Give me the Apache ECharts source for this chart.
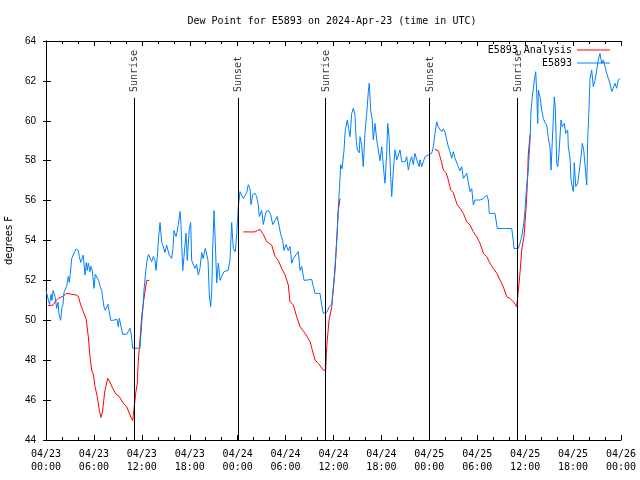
<!DOCTYPE html>
<html>
<head>
<meta charset="utf-8">
<script src="https://cdn.jsdelivr.net/npm/echarts@6/dist/echarts.min.js"></script>
<style>html,body{margin:0;padding:0;background:#fff;}#chart{width:640px;height:480px;}</style>
</head>
<body>
<div id="chart"></div>
<script>
// Hours since 2024-04-23 00:00 UTC
const xTickHours = [0, 6, 12, 18, 24, 30, 36, 42, 48, 54, 60, 66, 72];
const yTicks = [44, 46, 48, 50, 52, 54, 56, 58, 60, 62, 64];

const obsHours = [0.00,0.16,0.31,0.44,0.63,0.75,0.88,1.13,1.34,1.50,1.63,1.84,1.97,2.13,2.25,2.42,2.59,2.79,2.92,3.04,3.22,3.38,3.54,3.76,4.04,4.17,4.35,4.51,4.67,4.88,5.05,5.17,5.30,5.51,5.63,5.80,6.01,6.17,6.35,6.60,6.76,6.97,7.14,7.26,7.43,7.60,7.76,7.93,8.10,8.39,8.64,8.89,9.05,9.18,9.33,9.60,10.11,10.27,10.52,10.68,10.86,11.77,11.98,12.15,12.27,12.52,12.69,12.84,13.02,13.24,13.44,13.65,13.77,13.94,14.11,14.28,14.49,14.69,14.90,15.11,15.28,15.44,15.74,15.90,16.03,16.28,16.40,16.57,16.78,16.90,17.12,17.28,17.53,17.69,17.94,18.12,18.24,18.41,18.66,18.87,19.07,19.28,19.50,19.66,19.78,19.95,20.12,20.29,20.45,20.62,20.75,20.87,21.04,21.20,21.38,21.58,21.79,22.00,22.29,22.79,23.04,23.25,23.45,23.70,23.88,24.08,24.29,24.54,24.71,24.92,25.13,25.33,25.55,25.67,25.88,26.17,26.38,26.58,26.71,27.01,27.21,27.55,27.84,28.14,28.39,28.68,28.96,29.21,29.39,29.64,29.80,30.05,30.34,30.55,30.77,30.97,31.18,31.59,31.81,32.02,32.31,32.56,33.27,33.68,34.31,34.52,34.72,35.15,35.48,35.78,36.06,36.31,36.48,36.56,36.73,36.90,37.07,37.32,37.48,37.73,37.90,38.07,38.28,38.48,38.69,38.82,38.98,39.23,39.32,39.53,39.73,39.95,40.16,40.36,40.48,40.66,40.86,40.98,41.20,41.41,41.61,41.82,42.04,42.32,42.45,42.66,42.79,42.95,43.16,43.29,43.49,43.70,43.92,44.12,44.33,44.54,44.95,45.17,45.37,45.58,45.79,45.99,46.21,46.42,46.75,46.83,47.05,47.25,47.46,47.87,48.30,48.50,48.71,48.92,49.12,49.34,49.55,49.75,49.96,50.18,50.38,50.59,50.80,51.00,51.22,51.43,51.63,51.84,52.05,52.26,52.47,52.68,52.88,53.09,53.31,53.51,53.72,54.35,54.76,55.19,55.39,55.51,56.22,56.51,58.32,58.52,58.60,59.14,59.35,59.57,59.77,59.98,60.19,60.39,60.61,60.73,60.90,61.15,61.32,61.45,61.57,61.65,61.86,62.07,62.27,62.49,62.70,62.90,63.11,63.24,63.40,63.65,63.78,63.95,64.08,64.24,64.49,64.65,64.90,65.08,65.33,65.40,65.62,65.74,65.90,66.03,66.15,66.33,66.45,66.58,66.74,66.99,67.16,67.33,67.49,67.71,67.83,68.00,68.12,68.33,68.53,68.75,68.96,69.16,69.37,69.58,69.79,70.00,70.21,70.41,70.62,70.84,71.04,71.25,71.46,71.66,71.88];
const obsValues = [51.5,51.5,51.0,50.8,51.3,51.0,51.5,51.2,50.6,50.9,50.3,50.0,50.6,50.8,51.4,51.4,51.7,52.2,51.9,52.3,53.1,53.0,53.4,53.57,53.5,53.2,52.9,52.9,53.27,52.27,52.9,52.5,52.87,52.44,52.7,52.5,51.6,52.3,52.2,52.0,51.7,51.5,51.0,50.68,50.5,50.5,50.8,50.7,50.0,50.0,50.05,50.05,49.68,50.1,50.0,49.3,49.3,49.4,49.6,49.3,48.6,48.6,49.85,50.7,51.5,52.6,53.1,53.3,53.2,52.94,53.2,53.0,52.5,53.2,54.2,54.9,53.9,53.7,53.4,53.77,53.5,53.27,53.1,53.6,54.5,54.2,54.4,54.8,55.45,54.8,52.5,53.2,54.37,53.0,54.6,54.9,53.0,52.9,52.6,52.8,52.27,52.6,53.4,53.1,53.2,53.6,53.5,53.0,51.27,50.68,51.5,53.5,55.5,53.9,51.87,52.87,52.0,52.2,52.44,52.5,53.0,54.9,53.6,53.44,54.3,55.7,56.45,56.4,56.1,56.03,56.4,56.8,56.6,55.8,56.3,56.37,56.2,55.8,55.2,55.5,54.8,55.45,55.5,55.3,54.8,55.0,55.2,54.7,54.3,54.0,53.5,53.8,53.5,53.7,52.86,53.1,53.2,53.44,52.5,52.7,52.0,52.0,52.05,51.35,51.35,50.77,50.35,50.4,50.68,50.8,52.0,53.37,54.5,55.3,56.5,57.8,57.6,58.54,59.54,60.04,59.6,59.2,60.37,60.62,60.3,59.2,58.54,58.4,59.2,58.8,57.7,59.45,60.37,61.46,61.88,60.54,60.0,59.04,59.87,59.04,58.54,58.0,58.7,57.37,56.87,58.4,59.87,59.2,57.2,56.2,57.5,58.54,58.04,58.1,58.54,57.95,57.95,58.2,57.53,57.95,58.2,57.8,58.37,58.04,57.7,58.04,57.7,57.95,58.2,58.29,58.37,58.7,59.37,59.95,59.7,59.6,59.45,59.6,59.45,59.04,58.7,58.45,58.12,58.45,58.12,58.04,57.7,57.5,57.7,57.11,57.11,57.37,57.37,56.45,56.6,55.78,56.03,56.03,56.1,56.28,56.03,55.36,55.36,54.6,54.6,53.94,53.6,53.6,53.86,54.2,54.69,55.53,56.7,57.53,59.04,60.45,61.2,62.04,62.46,61.4,59.87,61.54,61.2,60.54,60.12,59.9,59.79,59.12,58.7,57.53,59.0,61.2,60.6,57.87,57.7,58.4,60.04,59.7,59.87,59.37,59.54,58.7,58.12,57.03,56.7,56.45,57.9,56.7,56.6,56.87,57.37,58.2,58.87,58.54,58.54,56.78,59.0,60.7,62.13,62.55,61.7,62.04,62.55,63.05,63.38,62.88,63.05,62.71,62.38,62.13,61.88,61.46,61.54,61.88,61.63,62.04,62.13];

// Analysis series; null marks a gap
const anaHours = [0.25,0.50,0.84,1.13,1.54,2.09,2.59,3.22,3.76,4.04,4.35,4.67,5.01,5.30,5.51,5.72,5.92,6.14,6.42,6.67,6.89,7.07,7.23,7.39,7.73,8.01,8.35,8.77,9.18,9.68,10.11,10.52,10.86,11.06,11.23,11.43,11.56,11.77,11.98,12.27,12.61,12.94,18.00,24.71,26.17,26.48,26.80,27.21,27.64,28.26,28.68,29.09,29.51,29.93,30.34,30.55,30.97,31.39,31.81,32.43,33.06,33.68,34.10,34.72,35.02,35.15,35.44,35.78,36.19,36.40,36.60,36.82,42.00,48.71,49.12,49.34,49.55,49.75,50.09,50.38,50.68,51.00,51.22,51.50,51.84,52.26,52.68,53.09,53.51,53.93,54.35,54.76,55.19,55.60,56.01,56.44,56.85,57.26,57.69,58.10,58.52,58.94,59.07,59.35,59.57,59.85,60.10,60.27,60.39,60.61];
const anaValues = [50.75,50.7,50.75,50.93,51.1,51.2,51.35,51.3,51.27,51.2,50.77,50.43,50.1,49.18,48.17,47.5,47.3,46.67,46.17,45.5,45.13,45.4,46.0,46.5,47.09,46.9,46.59,46.3,46.17,45.84,45.67,45.25,44.97,45.0,46.34,46.84,48.0,49.0,50.18,51.1,52.0,52.0,null,54.43,54.43,54.5,54.56,54.3,53.94,53.77,53.2,53.0,52.6,52.27,51.77,50.93,50.77,50.18,49.68,49.35,48.93,48.01,47.84,47.5,47.5,48.68,50.0,50.68,52.5,54.0,55.5,56.1,null,58.57,58.5,58.2,57.9,57.53,57.4,57.03,56.53,56.4,56.11,55.78,55.61,55.36,54.94,54.78,54.44,54.19,53.86,53.36,53.19,52.86,52.6,52.36,52.02,51.68,51.18,51.1,50.93,50.68,51.18,52.36,53.52,54.19,55.53,56.86,58.3,59.3];

const sunHours = [11.05, 24.07, 35.02, 48.03, 59.05];
const sunNames = ['Sunrise', 'Sunset', 'Sunrise', 'Sunset', 'Sunrise'];
const sunLineTop = 61.15;
const sunLabelBase = 61.44;

const titleText = 'Dew Point for E5893 on 2024-Apr-23 (time in UTC)';
const obsName = 'E5893';
const anaName = 'E5893 Analysis';
const yName = 'degrees F';

const MONO = '"DejaVu Sans Mono", "Liberation Mono", monospace';
const SANS = '"Liberation Sans", Arial, sans-serif';

const chart = echarts.init(document.getElementById('chart'), null, {renderer: 'canvas'});

function pad(n) { return (n < 10 ? '0' : '') + n; }
function xLabel(v) {
  const day = 23 + Math.floor(v / 24);
  const hh = Math.round(v % 24);
  return '04/' + pad(day) + '\n' + pad(hh) + ':00';
}

const obsData = obsHours.map((h, i) => [h, obsValues[i]]);
const anaData = anaHours.map((h, i) => [h, anaValues[i] === null ? '-' : anaValues[i]]);
const sunData = sunHours.map((h, i) => ({name: sunNames[i], value: [h, sunLabelBase]}));

const baseX = {
  type: 'value', min: xTickHours[0], max: xTickHours[xTickHours.length - 1], interval: 6,
  axisLine: {show: true, lineStyle: {color: '#000', width: 1}},
  axisTick: {show: true, inside: true, length: 5, lineStyle: {color: '#000'}},
  minorTick: {show: true, splitNumber: 3, length: 3, lineStyle: {color: '#000'}},
  splitLine: {show: false}
};
const baseY = {
  type: 'value', min: yTicks[0], max: yTicks[yTicks.length - 1], interval: 2,
  axisLine: {show: true, lineStyle: {color: '#000', width: 1}},
  axisTick: {show: true, inside: true, length: 5, lineStyle: {color: '#000'}},
  splitLine: {show: false}
};

chart.setOption({
  animation: false,
  backgroundColor: '#fff',
  title: {
    text: titleText, left: 327, top: 11, textAlign: 'center',
    textStyle: {fontFamily: MONO, fontSize: 10, fontWeight: 'normal', color: '#000'}
  },
  legend: {
    data: [
      {name: anaName, icon: 'rect', itemStyle: {color: '#ff0000'}},
      {name: obsName, icon: 'rect', itemStyle: {color: '#0080ff'}}
    ],
    orient: 'vertical', align: 'right',
    right: 25, top: 39, itemWidth: 33, itemHeight: 1, itemGap: 1,
    textStyle: {fontFamily: MONO, fontSize: 10, color: '#000', lineHeight: 12}
  },
  grid: {left: 46, right: 19, top: 41, bottom: 40, containLabel: false, outerBoundsMode: 'none'},
  xAxis: [
    Object.assign({}, baseX, {
      position: 'bottom',
      axisLabel: {show: true, formatter: xLabel, fontFamily: MONO, fontSize: 10, color: '#000', lineHeight: 13, margin: 8, showMinLabel: true, showMaxLabel: true}
    }),
    Object.assign({}, baseX, {position: 'top', axisLabel: {show: false}})
  ],
  yAxis: [
    Object.assign({}, baseY, {
      position: 'left', name: yName, nameLocation: 'middle', nameGap: 30, nameRotate: 90,
      nameTextStyle: {fontFamily: '"DejaVu Sans", sans-serif', fontSize: 10, color: '#000'},
      axisLabel: {show: true, fontFamily: SANS, fontSize: 10, color: '#000', margin: 10}
    }),
    Object.assign({}, baseY, {position: 'right', axisLabel: {show: false}, axisTick: {show: true, inside: true, length: 3, lineStyle: {color: '#000'}}})
  ],
  series: [
    {
      name: anaName, type: 'line', xAxisIndex: 0, yAxisIndex: 0,
      data: anaData, symbol: 'none', showSymbol: false, connectNulls: false,
      lineStyle: {color: '#ff0000', width: 1}, itemStyle: {color: '#ff0000'}, z: 2
    },
    {
      name: obsName, type: 'line', xAxisIndex: 0, yAxisIndex: 0,
      data: obsData, symbol: 'none', showSymbol: false,
      lineStyle: {color: '#0080ff', width: 1}, itemStyle: {color: '#0080ff'}, z: 3
    },
    {
      name: 'sun', type: 'scatter', xAxisIndex: 0, yAxisIndex: 0,
      data: sunData, symbolSize: 1, itemStyle: {color: 'rgba(0,0,0,0)'}, z: 4,
      silent: true,
      label: {
        show: true, formatter: p => p.name, position: 'right', distance: 0, rotate: 90,
        fontFamily: MONO, fontSize: 10, color: '#000'
      },
      markLine: {
        silent: true, symbol: 'none', animation: false,
        label: {show: false},
        lineStyle: {color: '#000', width: 1, type: 'solid'},
        data: sunHours.map(h => [{coord: [h, yTicks[0]]}, {coord: [h, sunLineTop]}])
      }
    }
  ]
});
</script>
</body>
</html>
